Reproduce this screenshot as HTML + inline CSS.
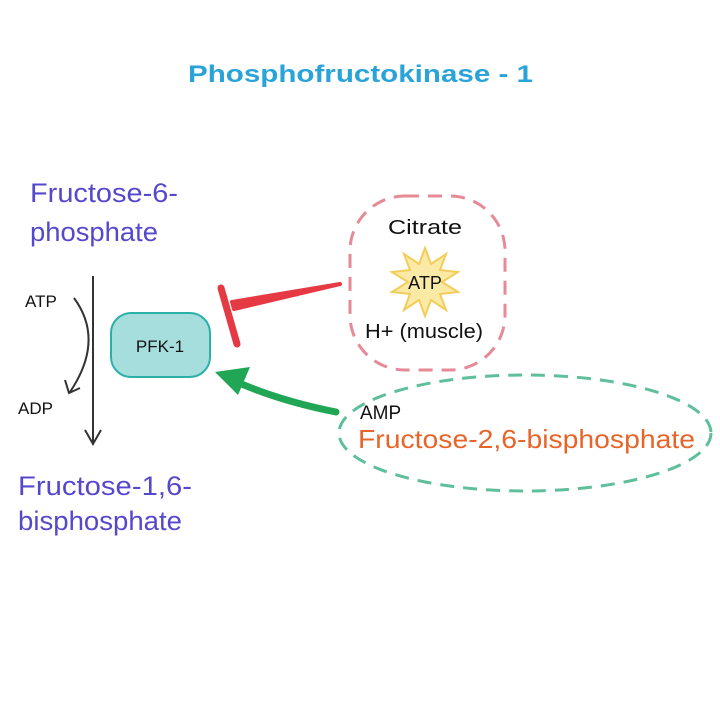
<!DOCTYPE html>
<html><head><meta charset="utf-8"><style>
html,body{margin:0;padding:0;background:#fff;width:720px;height:720px;overflow:hidden}
</style></head><body>
<svg width="720" height="720" viewBox="0 0 720 720" xmlns="http://www.w3.org/2000/svg" font-family="Liberation Sans, sans-serif">
<rect width="720" height="720" fill="#fff"/>
<text x="188" y="82" font-size="24" font-weight="bold" fill="#2aa3d8" textLength="345" lengthAdjust="spacingAndGlyphs">Phosphofructokinase - 1</text>
<g fill="#5548cc" font-size="27">
<text x="30" y="202" textLength="148" lengthAdjust="spacingAndGlyphs">Fructose-6-</text>
<text x="30" y="241" textLength="128" lengthAdjust="spacingAndGlyphs">phosphate</text>
<text x="18" y="495" textLength="174" lengthAdjust="spacingAndGlyphs">Fructose-1,6-</text>
<text x="18" y="530" textLength="164" lengthAdjust="spacingAndGlyphs">bisphosphate</text>
</g>
<line x1="93" y1="276" x2="93" y2="442" stroke="#333" stroke-width="2"/>
<path d="M85 430 L93 444 L101 430" fill="none" stroke="#333" stroke-width="2"/>
<text x="25" y="307" font-size="17" fill="#111">ATP</text>
<text x="18" y="414" font-size="17" fill="#111">ADP</text>
<path d="M74 298 Q105 340 70 392" fill="none" stroke="#333" stroke-width="2"/>
<path d="M65 380 L69 393 L80 388" fill="none" stroke="#333" stroke-width="2"/>
<rect x="111" y="313" width="99" height="64" rx="20" fill="#a6dede" stroke="#2bb0a8" stroke-width="2"/>
<text x="160" y="352" text-anchor="middle" font-size="17" fill="#111">PFK-1</text>
<path d="M340 284 L232 302 L234 309 Z" fill="#e53943" stroke="#e53943" stroke-width="4" stroke-linejoin="round"/>
<path d="M221 288 L237 344" stroke="#e53943" stroke-width="7" stroke-linecap="round"/>
<rect x="350" y="196" width="155" height="174" rx="55" fill="none" stroke="#e58a96" stroke-width="3" stroke-dasharray="14 9"/>
<text x="388" y="234" font-size="20" fill="#111" textLength="74" lengthAdjust="spacingAndGlyphs">Citrate</text>
<polygon points="425,248 431,264 446,254 440,270 458,272 442,282 458,292 440,294 446,310 431,300 425,316 419,300 404,310 410,294 392,292 408,282 392,272 410,270 404,254 419,264" fill="#fbeaa6" stroke="#f2cd5a" stroke-width="2"/>
<text x="425" y="289" text-anchor="middle" font-size="18" fill="#111">ATP</text>
<text x="365" y="338" font-size="20" fill="#111" textLength="118" lengthAdjust="spacingAndGlyphs">H+ (muscle)</text>
<path d="M336 412 Q275 400 228 378" fill="none" stroke="#20a655" stroke-width="7" stroke-linecap="round"/>
<path d="M250 367 L215 372 L238 395 Z" fill="#20a655"/>
<ellipse cx="525" cy="433" rx="186" ry="58" fill="none" stroke="#5fbf9a" stroke-width="3" stroke-dasharray="14 9"/>
<text x="360" y="419" font-size="19" fill="#111">AMP</text>
<text x="358" y="448" font-size="26" fill="#e8652a" textLength="337" lengthAdjust="spacingAndGlyphs">Fructose-2,6-bisphosphate</text>
</svg>
</body></html>
